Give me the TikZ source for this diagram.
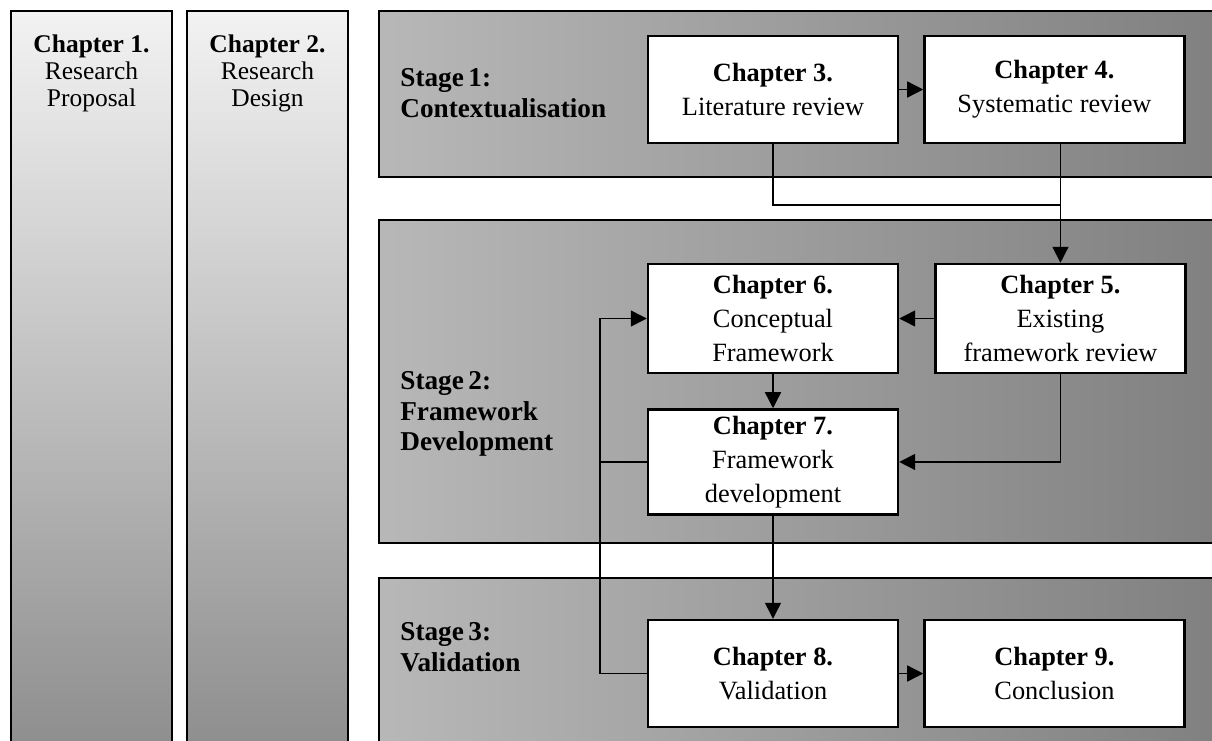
\documentclass[tikz,border=0pt]{standalone}
\usepackage{fontspec}
\setmainfont{Liberation Serif}
\usetikzlibrary{arrows.meta, positioning}

\begin{document}
\begin{tikzpicture}[x=1cm, y=-1cm, node distance=0.48cm,
  column/.style={draw, line width=1.6pt, top color=black!5, bottom color=black!45},
  stage/.style={draw, line width=1.4pt, left color=black!28, right color=black!50},
  chap/.style={rectangle, draw, fill=white, line width=1.4pt, align=center, minimum width=5cm, minimum height=2.14cm, inner sep=2pt, font=\fontsize{15}{19.5}\selectfont},
  coltext/.style={align=center, inner sep=0pt, font=\fontsize{14.5}{15.5}\selectfont},
  stagelabel/.style={align=left, inner sep=0pt, anchor=west, font=\bfseries\fontsize{15.5}{17.5}\selectfont},
  line/.style={draw, line width=0.8pt, -{Triangle[length=0.32cm, width=0.32cm]}},
  link/.style={draw, line width=0.8pt}]
  \clip (0,0) rectangle (24.24,14.8);
  \fill[white] (0,0) rectangle (24.24,14.8);
  % side columns
  \path[column] (0.22,0.22) rectangle (3.44,15.2);
  \path[column] (3.74,0.22) rectangle (6.96,15.2);
  \node [coltext, anchor=north] (p1) at (1.83,0.68) {\textbf{Chapter 1.}\\Research\\Proposal};
  \node [coltext, anchor=north] (p2) at (5.35,0.68) {\textbf{Chapter 2.}\\Research\\Design};
  % stages
  \path[stage] (7.58,0.22) rectangle (24.6,3.54);
  \path[stage] (7.58,4.40) rectangle (24.6,10.86);
  \path[stage] (7.58,11.56) rectangle (24.6,15.2);
  \node [stagelabel] (s1) at (8.0,1.86) {Stage\,1:\\Contextualisation};
  \node [stagelabel] (s2) at (8.0,8.28) {Stage\,2:\\Framework\\Development};
  \node [stagelabel] (s3) at (8.0,12.94) {Stage\,3:\\Validation};
  % chapters
  \node [chap] (ch3) at (15.46,1.79) {\textbf{Chapter 3.}\\Literature review};
  \node [chap, minimum width=5.2cm, right=of ch3] (ch4) {\textbf{Chapter 4.}\\Systematic review};
  \node [chap, minimum height=2.18cm] (ch6) at (15.46,6.37) {\textbf{Chapter 6.}\\Conceptual\\Framework};
  \node [chap, minimum height=2.18cm, right=0.7cm of ch6] (ch5) {\textbf{Chapter 5.}\\Existing\\framework review};
  \node [chap, minimum height=2.1cm, below=0.68cm of ch6] (ch7) {\textbf{Chapter 7.}\\Framework\\development};
  \node [chap] (ch8) at (15.46,13.47) {\textbf{Chapter 8.}\\Validation};
  \node [chap, minimum width=5.2cm, right=of ch8] (ch9) {\textbf{Chapter 9.}\\Conclusion};
  \coordinate (join) at (ch5.north |- 0,4.1);
  \coordinate (loop) at (12.0,0);
  % connectors
  \draw [line] (ch3) -- (ch4);
  \draw [link] (ch3.south) |- (join);
  \draw [line] (ch5.north |- ch4.south) -- (ch5.north);
  \draw [line] (ch5) -- (ch6);
  \draw [line] (ch6) -- (ch7);
  \draw [line] (ch5.south) |- (ch7.east);
  \draw [line] (ch7) -- (ch8);
  \draw [line] (ch8) -- (ch9);
  \draw [link] (ch7.west) -- (ch7.west -| loop);
  \draw [line] (ch8.west) -| (loop |- ch8.west) |- (ch6.west);
\end{tikzpicture}
\end{document}
